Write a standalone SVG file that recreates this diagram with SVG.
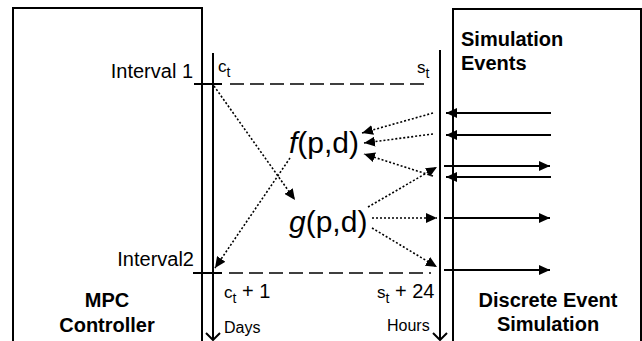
<svg xmlns="http://www.w3.org/2000/svg" width="642" height="341" viewBox="0 0 642 341">
<style>
text{font-family:"Liberation Sans",Arial,sans-serif;fill:#000}
.b{font-weight:bold;font-size:20px}
.r{font-size:20px}
.s{font-size:16px}
.big{font-size:30px}
.ln{fill:none;stroke:#000;stroke-width:2}
.dash{fill:none;stroke:#000;stroke-width:1.6;stroke-dasharray:14 6}
.dot{fill:none;stroke:#000;stroke-width:1.6;stroke-dasharray:2 2;marker-end:url(#ah)}
.sol{fill:none;stroke:#000;stroke-width:2;marker-end:url(#ah)}
</style>
<defs>
<marker id="ah" markerUnits="userSpaceOnUse" markerWidth="12" markerHeight="10" refX="11" refY="5" orient="auto"><path d="M0,0 L11,5 L0,10 z" fill="#000"/></marker>
</defs>
<g id="mpc-controller">
<path class="ln" d="M13,341 V8 H202 V341"/>
<text class="b" x="107" y="307" text-anchor="middle">MPC</text>
<text class="b" x="107" y="332" text-anchor="middle">Controller</text>
</g>
<g id="discrete-event-simulation">
<path class="ln" d="M453,341 V9 H641 V341"/>
<text class="b" x="461" y="46">Simulation</text>
<text class="b" x="461" y="70">Events</text>
<text class="b" x="548" y="307" text-anchor="middle">Discrete Event</text>
<text class="b" x="548" y="331" text-anchor="middle">Simulation</text>
</g>
<g id="days-axis">
<path class="ln" d="M213,53 V340 M206,333 L213,340 L220,333"/>
<text class="s" x="224" y="333">Days</text>
</g>
<g id="hours-axis">
<path class="ln" d="M440,50 V340 M433,333 L440,340 L447,333"/>
<text class="s" x="387" y="331">Hours</text>
</g>
<g id="interval1">
<path class="ln" d="M194,84 H222" stroke-width="1.6"/>
<path class="dash" d="M230,84 H430"/>
<text class="r" x="193" y="78" text-anchor="end">Interval 1</text>
<text x="218" y="72" font-size="17">c<tspan font-size="14" dy="5">t</tspan></text>
<text x="417" y="73" font-size="17">s<tspan font-size="14" dy="5">t</tspan></text>
</g>
<g id="interval2">
<path class="ln" d="M193,273 H222" stroke-width="1.6"/>
<path class="dash" d="M229,273 H431"/>
<text class="r" x="194" y="266" text-anchor="end">Interval2</text>
<text x="224" y="298" font-size="17">c<tspan font-size="14" dy="5">t</tspan><tspan font-size="20" dy="-5"> + 1</tspan></text>
<text x="377" y="298" font-size="17">s<tspan font-size="14" dy="5">t</tspan><tspan font-size="20" dy="-5"> + 24</tspan></text>
</g>
<g id="f-node">
<text class="big" x="289" y="153"><tspan font-style="italic">f</tspan>(p,d)</text>
</g>
<g id="g-node">
<text class="big" x="289" y="232"><tspan font-style="italic">g</tspan>(p,d)</text>
</g>
<g id="connectors">
<path class="dot" d="M214,86 L295,200"/>
<path class="dot" d="M290,158 L215,268"/>
<path class="dot" d="M433,113 L362,133"/>
<path class="dot" d="M433,134 L364,143"/>
<path class="dot" d="M433,176 L364,154"/>
<path class="dot" d="M368,207 L437,167"/>
<path class="dot" d="M372,218 L437,218"/>
<path class="dot" d="M372,228 L437,267"/>
<path class="sol" d="M551,113 H446"/>
<path class="sol" d="M551,135 H446"/>
<path class="sol" d="M551,177 H446"/>
<path class="sol" d="M444,166 H550"/>
<path class="sol" d="M444,218 H550"/>
<path class="sol" d="M444,270 H550"/>
</g>
</svg>
